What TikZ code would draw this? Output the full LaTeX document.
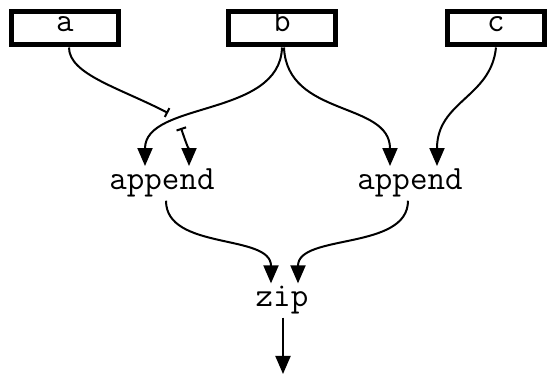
\documentclass[tikz,border=0pt]{standalone}
\usetikzlibrary{arrows.meta}

\begin{document}
\begin{tikzpicture}[x=1pt, y=-1pt,
    font=\fontsize{34}{36}\selectfont\ttfamily,
    tri/.tip={Triangle[length=18pt, width=15pt]},
    hop/.tip={Bar[width=10pt]},
    inbox/.style={draw, line width=5pt, minimum width=107pt, minimum height=33pt,
        inner sep=0pt, text height=0.62em, text depth=0pt},
    op/.style={inner sep=3pt, anchor=base},
    wire/.style={line width=2pt, -tri}]
    \useasboundingbox (0,0) rectangle (547,374);

    % inputs
    \node[inbox] (a) at (65,28.5) {a};
    \node[inbox] (b) at (282,28.5) {b};
    \node[inbox, minimum width=97pt] (c) at (496,28.5) {c};

    % operations
    \node[op] (app1) at (162,190) {append};
    \node[op] (app2) at (410,190) {append};
    \node[op] (zip) at (282,307) {zip};

    % crossing gap and result end
    \coordinate (hopin) at (168,113);
    \coordinate (hopout) at (181,128);
    \coordinate (res) at (283,374);

    \draw[wire] (b.south) .. controls +(-2,70) and +(0,-65) .. ([xshift=-17pt]app1.north);
    \draw[wire, -hop] ([xshift=4pt]a.south) .. controls +(0,27) and +(-48,-25) .. (hopin);
    \draw[wire, hop-tri] (hopout) .. controls +(4,12) and +(0,-15) .. ([xshift=27pt]app1.north);

    \draw[wire] ([xshift=2pt]b.south) .. controls +(3,70) and +(0,-65) .. ([xshift=-20pt]app2.north);
    \draw[wire] (c.south) .. controls +(-5,50) and +(0,-65) .. ([xshift=27pt]app2.north);

    \draw[wire] ([xshift=4pt]app1.south) .. controls +(0,50) and +(0,-50) .. ([xshift=-11pt]zip.north);
    \draw[wire] ([xshift=-2pt]app2.south) .. controls +(0,50) and +(0,-50) .. ([xshift=16pt]zip.north);

    \draw[wire] ([xshift=1pt]zip.south) -- (res);
\end{tikzpicture}
\end{document}
